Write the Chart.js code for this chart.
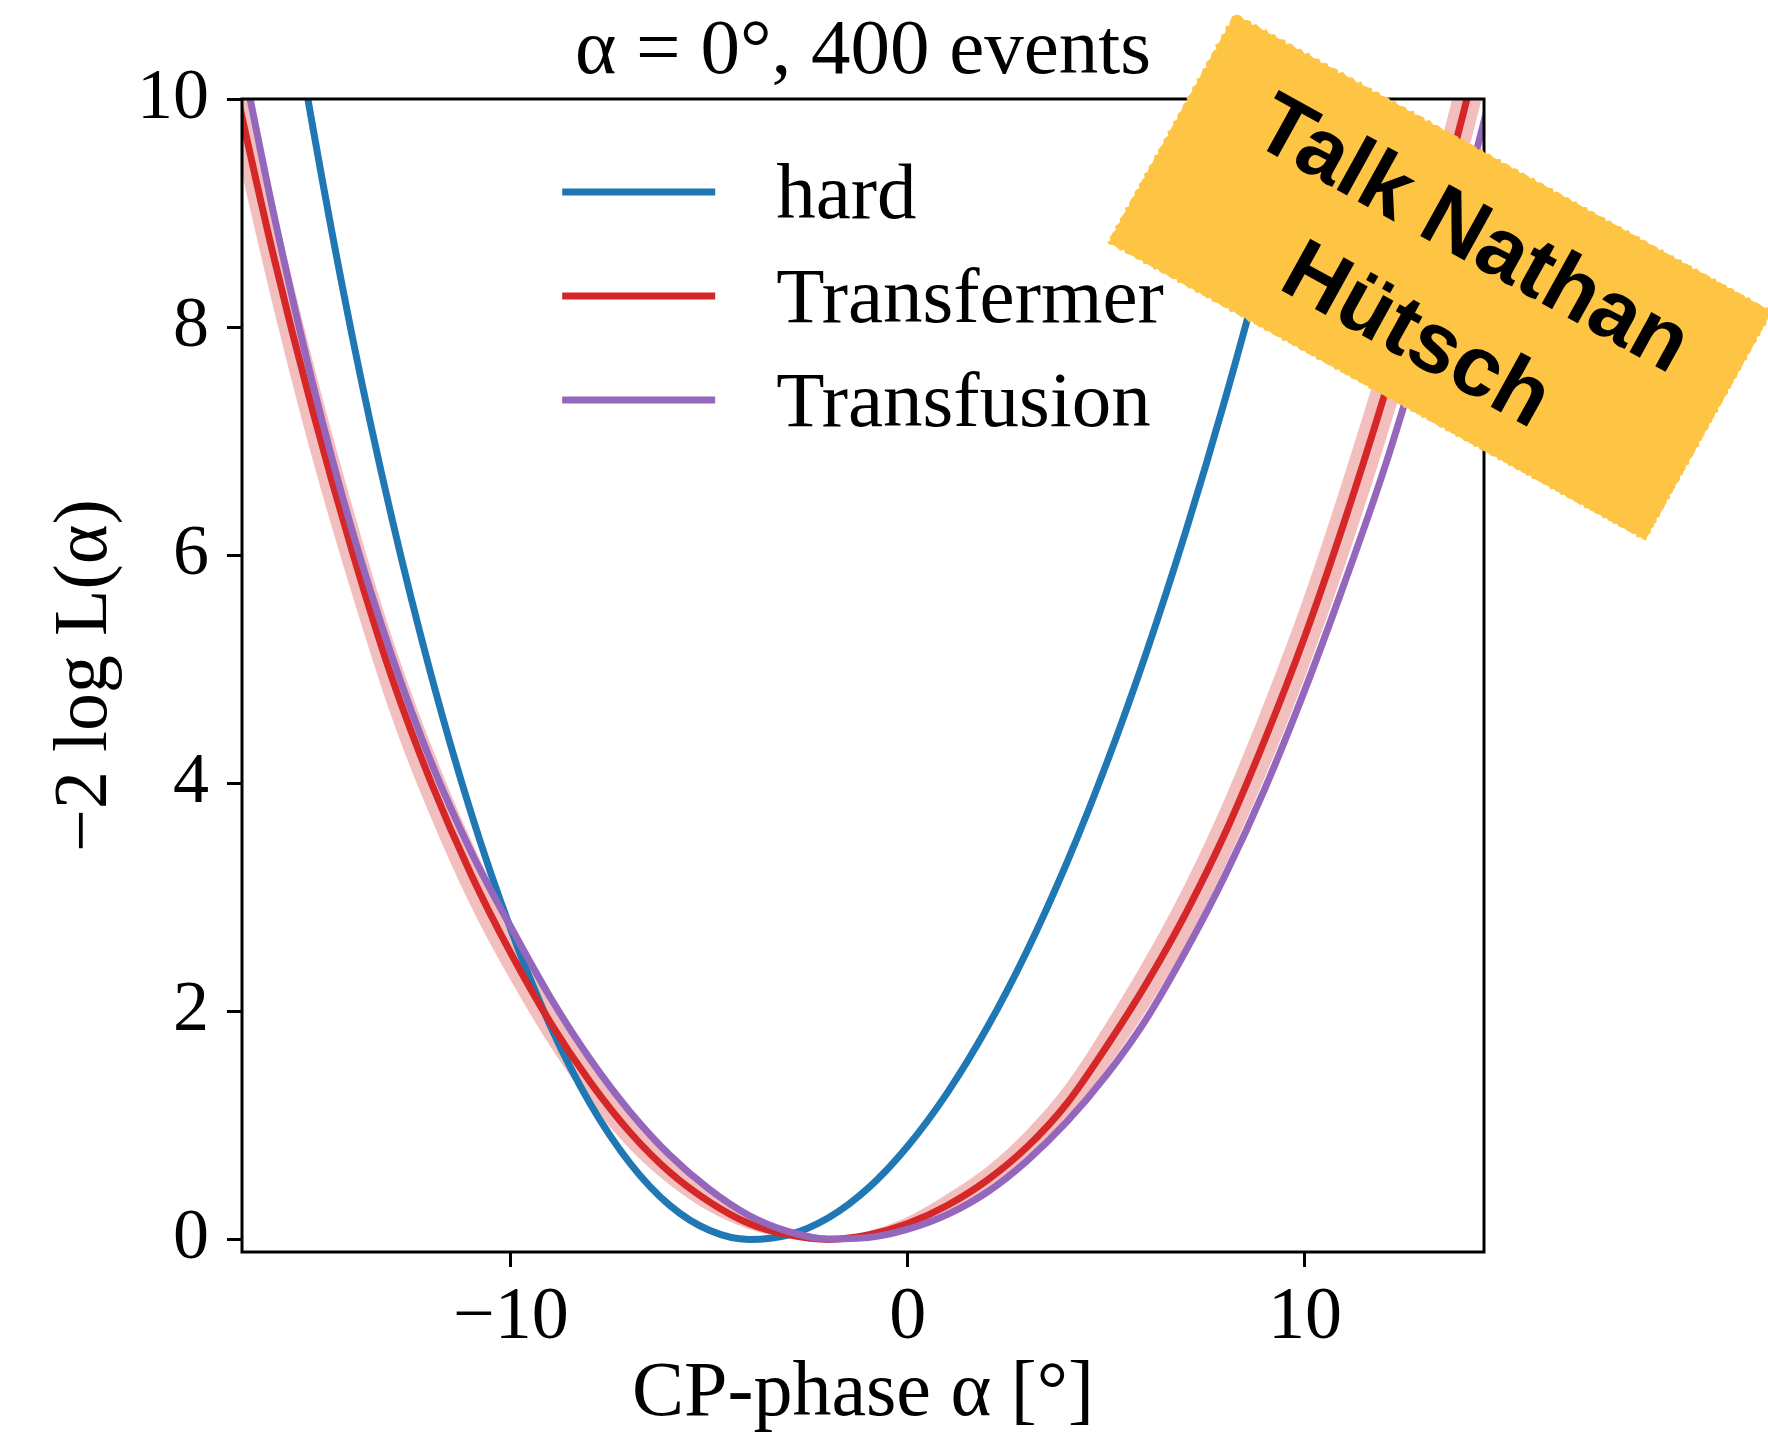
<!DOCTYPE html>
<html>
<head>
<meta charset="utf-8">
<title>Likelihood scan of the CP phase</title>
<script src="https://cdn.jsdelivr.net/npm/chart.js@4.4.1/dist/chart.umd.min.js"></script>
<style>
  html, body { margin: 0; padding: 0; background: #fff; }
  #wrap { width: 1768px; height: 1441px; }
</style>
</head>
<body>
<div id="wrap"><canvas id="scan" width="1768" height="1441"></canvas></div>
<script>
// scan points, CP-phase alpha in degrees
const alphaGrid = [-17, -16, -15, -14, -13, -12, -11, -10, -9, -8, -7, -6, -5, -4, -3, -2, -1,
                   0, 1, 2, 3, 4, 5, 6, 7, 8, 9, 10, 11, 12, 13, 14, 15];

// -2 log L for each reconstruction
const hardNll = [14.2, 11.88, 9.78, 7.93, 6.33, 4.94, 3.74, 2.72, 1.87, 1.19, 0.67, 0.30, 0.08, 0.00, 0.04, 0.19, 0.45,
                 0.82, 1.29, 1.86, 2.53, 3.30, 4.17, 5.14, 6.21, 7.38, 8.66, 10.05, 11.55, 13.15, 14.85, 16.65, 18.55];
const transfermerNll = [10.2, 8.66, 7.28, 6.04, 4.93, 4.00, 3.20, 2.51, 1.90, 1.38, 0.94, 0.59, 0.33, 0.14, 0.04, 0.00, 0.04,
                        0.14, 0.30, 0.52, 0.81, 1.19, 1.69, 2.24, 2.86, 3.57, 4.39, 5.29, 6.30, 7.40, 8.58, 9.89, 11.29];
const transfermerLow = [9.69, 8.20, 6.85, 5.66, 4.58, 3.69, 2.92, 2.27, 1.69, 1.20, 0.79, 0.48, 0.245, 0.09, 0.012, 0.00, 0.012,
                        0.084, 0.22, 0.41, 0.67, 1.02, 1.49, 2.00, 2.59, 3.28, 4.06, 4.93, 5.90, 6.97, 8.12, 9.39, 10.76];
const transfermerHigh = [10.71, 9.14, 7.72, 6.44, 5.29, 4.33, 3.50, 2.77, 2.13, 1.58, 1.10, 0.72, 0.43, 0.21, 0.073, 0.006, 0.073,
                         0.20, 0.40, 0.64, 0.96, 1.37, 1.90, 2.48, 3.13, 3.88, 4.73, 5.66, 6.71, 7.84, 9.06, 10.40, 11.83];
const transfusionNll = [10.76, 9.04, 7.52, 6.22, 5.12, 4.18, 3.40, 2.74, 2.12, 1.58, 1.12, 0.74, 0.44, 0.21, 0.068, 0.004, 0.016,
                        0.09, 0.22, 0.416, 0.69, 1.03, 1.44, 1.93, 2.53, 3.20, 3.96, 4.82, 5.76, 6.76, 7.90, 9.12, 10.47];

const xTicks = [-10, 0, 10];
const yTicks = [0, 2, 4, 6, 8, 10];
const xRange = [-16.77, 14.51];
const yRange = [-0.11, 10];

const serif = '"Liberation Serif", "DejaVu Serif", serif';
Chart.defaults.font.family = serif;
Chart.defaults.color = '#000';

const toPoints = values => alphaGrid.map((a, i) => ({ x: a, y: values[i] }));
const minusFmt = v => (v < 0 ? '\u2212' + Math.abs(v) : String(v));

const curve = (label, values, color, order) => ({
    label,
    data: toPoints(values),
    borderColor: color,
    borderWidth: 7,
    pointRadius: 0,
    cubicInterpolationMode: 'monotone',
    borderJoinStyle: 'round',
    fill: false,
    clip: 0,
    order,
    inLegend: true
});

// axes frame on all four sides
const frameBox = {
    id: 'frameBox',
    afterDatasetsDraw(chart) {
        const { ctx, chartArea: a } = chart;
        ctx.save();
        ctx.strokeStyle = '#000';
        ctx.lineWidth = 3;
        ctx.strokeRect(a.left, a.top, a.right - a.left, a.bottom - a.top);
        ctx.restore();
    }
};

// legend inside the axes, upper centre, no frame
const innerLegend = {
    id: 'innerLegend',
    afterDatasetsDraw(chart) {
        const { ctx, chartArea: a } = chart;
        const entries = chart.data.datasets.filter(d => d.inLegend);
        const lineLen = 153, gap = 61, rowH = 104;
        ctx.save();
        ctx.font = '79px ' + serif;
        const textW = Math.max(...entries.map(d => ctx.measureText(d.label).width));
        const x0 = (a.left + a.right) / 2 - (lineLen + gap + textW) / 2;
        let y = a.top + 93;
        entries.forEach(d => {
            ctx.strokeStyle = d.borderColor;
            ctx.lineWidth = 7;
            ctx.beginPath();
            ctx.moveTo(x0, y);
            ctx.lineTo(x0 + lineLen, y);
            ctx.stroke();
            ctx.fillStyle = '#000';
            ctx.textAlign = 'left';
            ctx.textBaseline = 'alphabetic';
            ctx.fillText(d.label, x0 + lineLen + gap, y + 26);
            y += rowH;
        });
        ctx.restore();
    }
};

// rotated paper note over the upper right corner
const stickyNote = {
    id: 'stickyNote',
    afterDraw(chart) {
        const ctx = chart.ctx;
        const w = 615, h = 262;
        ctx.save();
        ctx.translate(1440, 277);
        ctx.rotate(29 * Math.PI / 180);
        const rough = i => 1.6 * Math.sin(i * 1.91) + 1.1 * Math.sin(i * 4.37 + 1) + 0.8 * Math.sin(i * 9.73 + 2);
        ctx.beginPath();
        const step = 3;
        let k = 0;
        for (let x = -w / 2; x <= w / 2; x += step) ctx.lineTo(x, -h / 2 + rough(k++));
        for (let y = -h / 2; y <= h / 2; y += step) ctx.lineTo(w / 2 + rough(k++), y);
        for (let x = w / 2; x >= -w / 2; x -= step) ctx.lineTo(x, h / 2 + rough(k++));
        for (let y = h / 2; y >= -h / 2; y -= step) ctx.lineTo(-w / 2 + rough(k++), y);
        ctx.closePath();
        ctx.fillStyle = '#fec444';
        ctx.fill();
        ctx.fillStyle = '#000';
        ctx.font = 'bold 86px "Liberation Sans", Arial, sans-serif';
        ctx.textAlign = 'center';
        ctx.textBaseline = 'middle';
        ctx.fillText('Talk Nathan', 8, -50);
        ctx.fillText('Hütsch', 8, 65);
        ctx.restore();
    }
};

new Chart(document.getElementById('scan'), {
    type: 'line',
    data: {
        datasets: [
            {
                label: 'Transfermer low',
                data: toPoints(transfermerLow),
                borderWidth: 0,
                borderColor: 'rgba(0,0,0,0)',
                pointRadius: 0,
                cubicInterpolationMode: 'monotone',
                fill: false,
                clip: 0,
                order: 4
            },
            {
                label: 'Transfermer high',
                data: toPoints(transfermerHigh),
                borderWidth: 0,
                borderColor: 'rgba(0,0,0,0)',
                backgroundColor: 'rgba(214, 39, 40, 0.3)',
                pointRadius: 0,
                cubicInterpolationMode: 'monotone',
                fill: '-1',
                clip: 0,
                order: 3
            },
            curve('hard', hardNll, '#1f77b4', 2),
            curve('Transfermer', transfermerNll, '#d62728', 1),
            curve('Transfusion', transfusionNll, '#9467bd', 0)
        ]
    },
    options: {
        responsive: false,
        animation: false,
        events: [],
        layout: { padding: { top: 0, right: 284, bottom: 0, left: 0 } },
        plugins: {
            legend: { display: false },
            tooltip: { enabled: false },
            title: {
                display: true,
                fullSize: false,
                text: 'α = 0°, 400 events',
                color: '#000',
                font: { family: serif, size: 79, weight: 'normal' },
                padding: { top: 5, bottom: -0.8 }
            }
        },
        scales: {
            x: {
                type: 'linear',
                min: xRange[0],
                max: xRange[1],
                afterBuildTicks: axis => { axis.ticks = xTicks.map(v => ({ value: v })); },
                afterFit: axis => { axis.height = 189; },
                grid: { drawOnChartArea: false, drawTicks: true, tickLength: 15, tickWidth: 3, tickColor: '#000' },
                border: { display: false },
                ticks: { padding: 7, color: '#000', font: { size: 74 }, maxRotation: 0, autoSkip: false, callback: minusFmt },
                title: { display: true, text: 'CP-phase α [°]', color: '#000', font: { size: 78 }, padding: { top: 0, bottom: 0 } }
            },
            y: {
                type: 'linear',
                min: yRange[0],
                max: yRange[1],
                afterBuildTicks: axis => { axis.ticks = yTicks.map(v => ({ value: v })); },
                afterFit: axis => { axis.width = 242; },
                grid: { drawOnChartArea: false, drawTicks: true, tickLength: 15, tickWidth: 3, tickColor: '#000' },
                border: { display: false },
                ticks: { padding: 18, color: '#000', font: { size: 72 }, autoSkip: false, callback: minusFmt },
                title: { display: true, text: '\u22122 log L(α)', color: '#000', font: { size: 76 }, padding: { top: 40, bottom: 0 } }
            }
        }
    },
    plugins: [frameBox, innerLegend, stickyNote]
});
</script>
</body>
</html>
